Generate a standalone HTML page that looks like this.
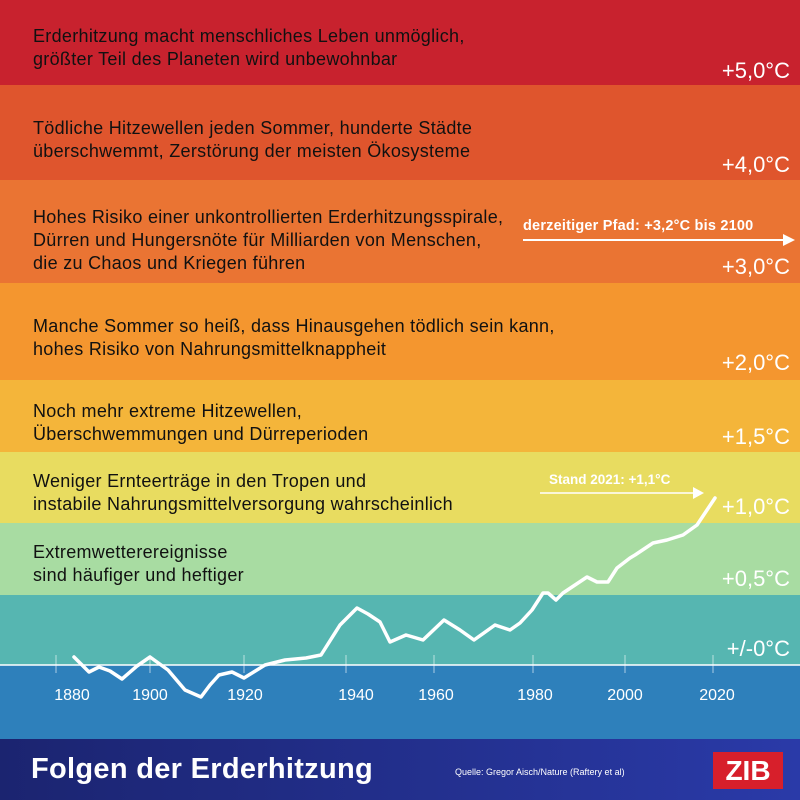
<!DOCTYPE html>
<html><head><meta charset="utf-8"><style>
body{margin:0;width:800px;height:800px;overflow:hidden;font-family:"Liberation Sans",sans-serif;position:relative}
.b{position:absolute;left:0;width:800px}
.t{position:absolute;left:33px;color:#111;font-size:18px;letter-spacing:0.3px;line-height:23px}
.r{position:absolute;right:10px;color:#fff;font-size:22px}
.y{position:absolute;top:687px;color:#fff;font-size:16px;transform:translateX(-50%)}
</style></head><body>
<div class="b" style="top:0;height:85px;background:#c8222e"></div>
<div class="b" style="top:85px;height:95px;background:#df552d"></div>
<div class="b" style="top:180px;height:103px;background:#ea7433"></div>
<div class="b" style="top:283px;height:97px;background:#f4962f"></div>
<div class="b" style="top:380px;height:72px;background:#f4b53a"></div>
<div class="b" style="top:452px;height:71px;background:#e8dc60"></div>
<div class="b" style="top:523px;height:72px;background:#a8dca2"></div>
<div class="b" style="top:595px;height:70px;background:#56b6b1"></div>
<div class="b" style="top:665px;height:74px;background:#2e80bb"></div>
<div class="b" style="top:739px;height:61px;background:linear-gradient(90deg,#1b2470,#2a3aa8)"></div>

<div class="t" style="top:25px">Erderhitzung macht menschliches Leben unmöglich,<br>größter Teil des Planeten wird unbewohnbar</div>
<div class="t" style="top:117px">Tödliche Hitzewellen jeden Sommer, hunderte Städte<br>überschwemmt, Zerstörung der meisten Ökosysteme</div>
<div class="t" style="top:206px">Hohes Risiko einer unkontrollierten Erderhitzungsspirale,<br>Dürren und Hungersnöte für Milliarden von Menschen,<br>die zu Chaos und Kriegen führen</div>
<div class="t" style="top:315px">Manche Sommer so heiß, dass Hinausgehen tödlich sein kann,<br>hohes Risiko von Nahrungsmittelknappheit</div>
<div class="t" style="top:400px">Noch mehr extreme Hitzewellen,<br>Überschwemmungen und Dürreperioden</div>
<div class="t" style="top:470px">Weniger Ernteerträge in den Tropen und<br>instabile Nahrungsmittelversorgung wahrscheinlich</div>
<div class="t" style="top:541px">Extremwetterereignisse<br>sind häufiger und heftiger</div>

<div class="r" style="top:58px">+5,0°C</div>
<div class="r" style="top:152px">+4,0°C</div>
<div class="r" style="top:254px">+3,0°C</div>
<div class="r" style="top:350px">+2,0°C</div>
<div class="r" style="top:424px">+1,5°C</div>
<div class="r" style="top:494px">+1,0°C</div>
<div class="r" style="top:566px">+0,5°C</div>
<div class="r" style="top:636px">+/-0°C</div>

<div style="position:absolute;left:523px;top:218px;color:#fff;font-weight:bold;font-size:14.5px;letter-spacing:0.2px">derzeitiger Pfad: +3,2°C bis 2100</div>
<div style="position:absolute;left:549px;top:472px;color:#fff;font-weight:bold;font-size:13.5px">Stand 2021: +1,1°C</div>

<svg width="800" height="800" style="position:absolute;left:0;top:0">
<line x1="0" y1="665" x2="800" y2="665" stroke="#fff" stroke-width="1.5"/>
<g stroke="#fff" stroke-opacity=".6" stroke-width="1">
<line x1="56" y1="655" x2="56" y2="673"/><line x1="150" y1="655" x2="150" y2="673"/><line x1="244" y1="655" x2="244" y2="673"/><line x1="346" y1="655" x2="346" y2="673"/><line x1="434" y1="655" x2="434" y2="673"/><line x1="533" y1="655" x2="533" y2="673"/><line x1="625" y1="655" x2="625" y2="673"/><line x1="713" y1="655" x2="713" y2="673"/>
</g>
<line x1="523" y1="240" x2="785" y2="240" stroke="#fff" stroke-width="2"/>
<polygon points="783,234 795,240 783,246" fill="#fff"/>
<line x1="540" y1="493" x2="695" y2="493" stroke="#fff" stroke-width="1.5"/>
<polygon points="693,487 704,493 693,499" fill="#fff"/>
<polyline fill="none" stroke="#fff" stroke-width="3.5" stroke-linejoin="round" stroke-linecap="round" points="74,657 89,672 99,667 110,671 122,679 137,666 150,657 168,670 185,690 201,697 210,685 219,675 232,672 244,678 265,665 285,660 306,658 321,655 340,625 357,608 368,614 380,622 390,642 406,635 423,640 444,620 460,630 474,640 495,625 510,630 520,623 532,610 543,593 548,593 556,600 563,593 575,585 587,577 597,582 608,582 617,568 630,558 635,555 653,543 667,540 683,535 697,525 707,510 715,498"/>
</svg>
<div class="y" style="left:72px">1880</div>
<div class="y" style="left:150px">1900</div>
<div class="y" style="left:245px">1920</div>
<div class="y" style="left:356px">1940</div>
<div class="y" style="left:436px">1960</div>
<div class="y" style="left:535px">1980</div>
<div class="y" style="left:625px">2000</div>
<div class="y" style="left:717px">2020</div>

<div style="position:absolute;left:31px;top:753px;color:#fff;font-weight:bold;font-size:29px;letter-spacing:0.3px">Folgen der Erderhitzung</div>
<div style="position:absolute;left:455px;top:767px;color:#fff;font-size:9px">Quelle: Gregor Aisch/Nature (Raftery et al)</div>
<div style="position:absolute;left:713px;top:752px;width:70px;height:37px;background:#d71f2b;color:#fff;font-weight:bold;font-size:28px;text-align:center;line-height:37px">ZIB</div>
</body></html>
